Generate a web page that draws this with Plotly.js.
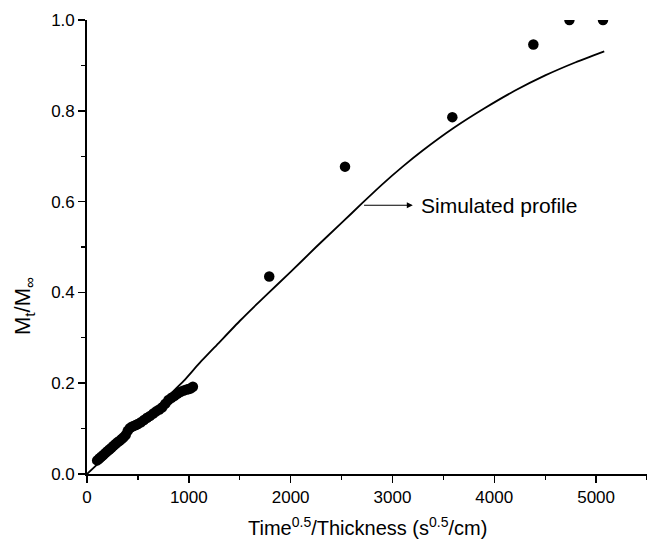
<!DOCTYPE html>
<html>
<head>
<meta charset="utf-8">
<script src="https://cdn.plot.ly/plotly-3.0.1.min.js"></script>
<style>html,body{margin:0;padding:0;background:#fff;}#chart{width:647px;height:546px;}</style>
</head>
<body>
<div id="chart"></div>
<script>
// Experimental data (dense early region, then sparse points)
var expX = [100,120,140,160,180,200,220,240,260,280,300,320,340,360,380,400,420,440,460,480,500,530,560,590,620,650,680,710,740,770,800,830,860,890,920,950,980,1000,1020,1040,
            1790,2534,3588,4384,4738,5068];
var expY = [0.030,0.034,0.038,0.042,0.046,0.050,0.054,0.058,0.062,0.066,0.070,0.073,0.077,0.081,0.086,0.095,0.101,0.104,0.106,0.108,0.110,0.114,0.119,0.124,0.128,0.133,0.138,0.142,0.147,0.155,0.163,0.168,0.172,0.177,0.181,0.184,0.186,0.187,0.189,0.192,
            0.435,0.677,0.786,0.946,1.0,1.0];

// Simulated profile
var simX = [0,200,400,600,800,950,1100,1300,1500,1750,2000,2250,2500,2700,2900,3100,3300,3600,3900,4200,4500,4800,5080];
var simY = [0,0.042,0.085,0.128,0.172,0.205,0.243,0.290,0.337,0.392,0.445,0.500,0.553,0.596,0.638,0.677,0.713,0.762,0.805,0.844,0.878,0.907,0.931];

var xTickVals = [0,1000,2000,3000,4000,5000];
var yTickVals = [0,0.2,0.4,0.6,0.8,1.0];

var traces = [
  {x: simX, y: simY, type: 'scatter', mode: 'lines', line: {color: '#000', width: 1.8, shape: 'spline', smoothing: 0.5}, hoverinfo: 'skip'},
  {x: expX, y: expY, type: 'scatter', mode: 'markers', marker: {color: '#000', size: 10.5, symbol: 'circle'}, cliponaxis: true}
];

var font = 'Liberation Sans, Arial, sans-serif';
var layout = {
  width: 647, height: 546,
  margin: {l: 87, r: 0, t: 20, b: 72},
  paper_bgcolor: '#fff', plot_bgcolor: '#fff',
  showlegend: false,
  font: {family: font, color: '#000', size: 17},
  xaxis: {
    range: [0, 5500], tickvals: xTickVals, ticktext: xTickVals.map(String),
    showgrid: false, zeroline: false, showline: true, linecolor: '#000', linewidth: 1.8,
    ticks: 'outside', ticklen: 7, tickwidth: 1.5, tickcolor: '#000',
    minor: {dtick: 500, ticks: 'outside', ticklen: 4, tickwidth: 1.2, tickcolor: '#000', showgrid: false},
    tickfont: {family: font, size: 17, color: '#000'}
  },
  yaxis: {
    range: [0, 1.0], tickvals: yTickVals, ticktext: yTickVals.map(function(v){return v.toFixed(1);}),
    showgrid: false, zeroline: false, showline: true, linecolor: '#000', linewidth: 1.8,
    ticks: 'outside', ticklen: 7, tickwidth: 1.5, tickcolor: '#000',
    minor: {dtick: 0.1, ticks: 'outside', ticklen: 4, tickwidth: 1.2, tickcolor: '#000', showgrid: false},
    tickfont: {family: font, size: 17, color: '#000'}
  },
  annotations: [
    {xref: 'paper', yref: 'paper', x: 0.5, y: 0, yshift: -52, xanchor: 'center', yanchor: 'middle',
     text: 'Time<sup>0.5</sup>/Thickness (s<sup>0.5</sup>/cm)', showarrow: false, font: {family: font, size: 20, color: '#000'}},
    {xref: 'paper', yref: 'paper', x: 0, xshift: -63, y: 0.37, xanchor: 'center', yanchor: 'middle', textangle: -90,
     text: 'M<sub>t</sub>/M<sub>∞</sub>', showarrow: false, font: {family: font, size: 22, color: '#000'}},
    {x: 3200, y: 0.592, ax: 2682, ay: 0.592, xref: 'x', yref: 'y', axref: 'x', ayref: 'y',
     text: ' ', showarrow: true, arrowhead: 2, arrowsize: 1, arrowwidth: 1.2, arrowcolor: '#000'},
    {x: 3260, y: 0.592, xref: 'x', yref: 'y', xanchor: 'left', yanchor: 'middle',
     text: 'Simulated profile', showarrow: false, font: {family: font, size: 21, color: '#000'}}
  ]
};

Plotly.newPlot('chart', traces, layout, {staticPlot: true, displayModeBar: false});
</script>
</body>
</html>
